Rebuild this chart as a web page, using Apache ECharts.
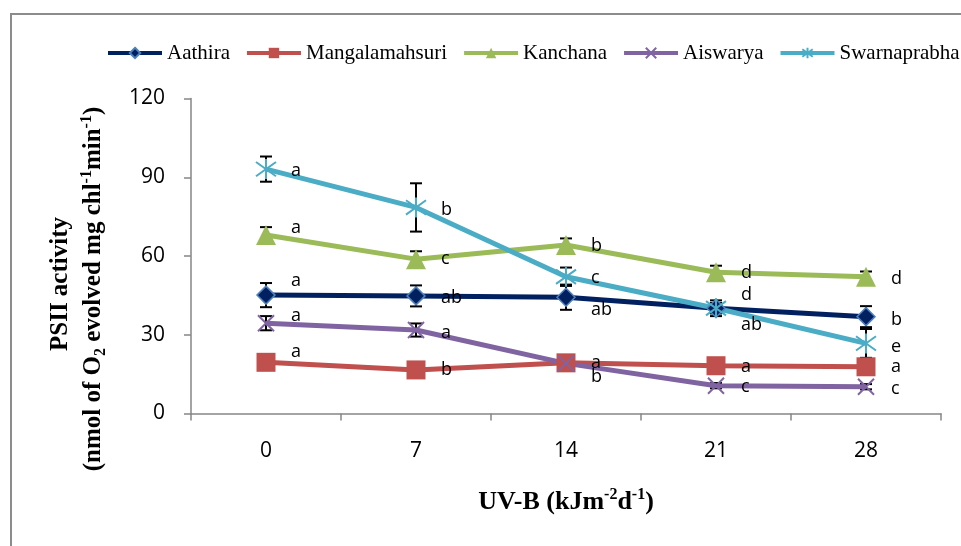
<!DOCTYPE html>
<html>
<head>
<meta charset="utf-8">
<script src="https://cdn.jsdelivr.net/npm/echarts@6/dist/echarts.min.js"></script>
<style>
html,body{margin:0;padding:0;background:#fff;}
#chart{width:961px;height:546px;}
</style>
</head>
<body>
<div id="chart"></div>
<script>
// ---- data ----
var categories = ['0', '7', '14', '21', '28'];
var seriesNames = ['Aathira', 'Mangalamahsuri', 'Kanchana', 'Aiswarya', 'Swarnaprabha'];
var yTicks = [0, 30, 60, 90, 120];

var aathira   = [45.1, 44.8, 44.3, 40.1, 36.9];
var mangala   = [19.5, 16.6, 19.3, 18.2, 17.8];
var kanchana  = [68.0, 58.8, 64.2, 53.8, 52.1];
var aiswarya  = [34.4, 31.8, 19.1, 10.6, 10.2];
var swarna    = [93.1, 78.5, 52.1, 40.1, 26.7];

var aathiraErr  = [4.6, 4.0, 4.8, 2.0, 4.0];
var mangalaErr  = [1.0, 1.0, 1.0, 1.0, 1.0];
var kanchanaErr = [3.0, 3.0, 2.5, 2.5, 2.0];
var aiswaryaErr = [2.7, 2.5, 1.0, 1.0, 1.0];
var swarnaErr   = [4.8, 9.2, 3.5, 3.0, 5.5];

var aathiraLetters  = ['a', 'ab', 'ab', 'ab', 'b'];
var mangalaLetters  = ['a', 'b', 'a', 'a', 'a'];
var kanchanaLetters = ['a', 'c', 'b', 'd', 'd'];
var aiswaryaLetters = ['a', 'a', 'b', 'c', 'c'];
var swarnaLetters   = ['a', 'b', 'c', 'd', 'e'];

// ---- layout (label vertical shifts in px) ----
var labelShift = {
  Aathira:        [-14, 2, 13, 17, 3],
  Mangalamahsuri: [-10, 0, 0, 1, 0],
  Kanchana:       [-7, 0, 1, 1, 2],
  Aiswarya:       [-7, 3, 14, 1, 2],
  Swarnaprabha:   [2, 2, 1, -13, 3]
};

var values = [aathira, mangala, kanchana, aiswarya, swarna];
var errs = [aathiraErr, mangalaErr, kanchanaErr, aiswaryaErr, swarnaErr];
var letters = [aathiraLetters, mangalaLetters, kanchanaLetters, aiswaryaLetters, swarnaLetters];

var styles = [
  {color: '#002060', symbol: 'diamond', size: 18, border: '#4F81BD', bw: 1.5},
  {color: '#C0504D', symbol: 'rect', size: 19, border: '#C0504D', bw: 0},
  {color: '#9BBB59', symbol: 'triangle', size: 20, border: '#9BBB59', bw: 0},
  {color: '#8064A2', symbol: 'path://M0 0L10 10M10 0L0 10', size: 16, border: '#8064A2', bw: 2},
  {color: '#4BACC6', symbol: 'path://M0 0L10 10M10 0L0 10M5 -2L5 12', size: 20, border: '#4BACC6', bw: 2}
];

var labelFont = 'Open Sans';
var series = [];

// error bars (drawn below the lines)
seriesNames.forEach(function (name, k) {
  series.push({
    name: name + ' err',
    type: 'custom',
    z: 1,
    silent: true,
    encode: {x: 0, y: 1},
    data: values[k].map(function (v, i) { return [i, v, errs[k][i]]; }),
    renderItem: function (params, api) {
      var i = api.value(0), v = api.value(1), e = api.value(2);
      var top = api.coord([i, v + e]);
      var bot = api.coord([i, v - e]);
      var w = 6;
      var st = {stroke: '#000', lineWidth: 2};
      return {
        type: 'group',
        children: [
          {type: 'line', shape: {x1: top[0], y1: top[1], x2: bot[0], y2: bot[1]}, style: st},
          {type: 'line', shape: {x1: top[0] - w, y1: top[1], x2: top[0] + w, y2: top[1]}, style: st},
          {type: 'line', shape: {x1: bot[0] - w, y1: bot[1], x2: bot[0] + w, y2: bot[1]}, style: st}
        ]
      };
    }
  });
});

seriesNames.forEach(function (name, k) {
  var s = styles[k];
  series.push({
    name: name,
    type: 'line',
    z: 2,
    symbol: s.symbol,
    symbolSize: s.size,
    showAllSymbol: true,
    lineStyle: {color: s.color, width: 5},
    itemStyle: {color: s.color, borderColor: s.border, borderWidth: s.bw},
    label: {
      show: true,
      position: 'inside',
      align: 'left',
      verticalAlign: 'middle',
      color: '#000',
      fontFamily: labelFont,
      fontSize: 18
    },
    data: values[k].map(function (v, i) {
      return {
        value: v,
        label: {formatter: letters[k][i], offset: [25, labelShift[name][i]]}
      };
    })
  });
});

var chart = echarts.init(document.getElementById('chart'), null, {renderer: 'canvas'});
chart.setOption({
  animation: false,
  backgroundColor: '#fff',
  grid: {left: 191, right: 20, top: 98.5, bottom: 132.5, containLabel: false},
  legend: {
    data: seriesNames,
    left: 106,
    top: 42,
    padding: 0,
    width: 900,
    itemWidth: 54,
    itemHeight: 13,
    itemGap: 15,
    lineStyle: {width: 4},
    textStyle: {fontFamily: 'Liberation Serif', fontSize: 21, color: '#000', lineHeight: 22}
  },
  xAxis: {
    type: 'category',
    data: categories,
    boundaryGap: true,
    axisLine: {show: true, lineStyle: {color: '#868686', width: 1.5}},
    axisTick: {show: true, length: 7, lineStyle: {color: '#868686', width: 1.5}},
    axisLabel: {color: '#000', fontFamily: labelFont, fontSize: 21, margin: 27},
    splitLine: {show: false}
  },
  yAxis: {
    type: 'value',
    min: yTicks[0],
    max: yTicks[yTicks.length - 1],
    interval: yTicks[1] - yTicks[0],
    axisLine: {show: true, lineStyle: {color: '#868686', width: 1.5}},
    axisTick: {show: true, length: 7, lineStyle: {color: '#868686', width: 1.5}},
    axisLabel: {color: '#000', fontFamily: labelFont, fontSize: 21, margin: 26},
    splitLine: {show: false}
  },
  graphic: [
    {
      type: 'rect', z: 0, silent: true,
      shape: {x: 11, y: 14, width: 1200, height: 800},
      style: {fill: 'none', stroke: '#8c8c8c', lineWidth: 2}
    },
    {
      type: 'text', x: 61, y: 284, rotation: Math.PI / 2,
      style: {
        text: 'PSII activity',
        font: 'bold 25px "Liberation Serif"',
        fill: '#000', align: 'center', verticalAlign: 'middle'
      }
    },
    {
      type: 'text', x: 94, y: 289, rotation: Math.PI / 2,
      style: {
        text: '(nmol of O{sub|2} evolved mg chl{sup|-1}min{sup|-1})',
        font: 'bold 25px "Liberation Serif"',
        fill: '#000', align: 'center', verticalAlign: 'middle',
        rich: {
          sub: {font: 'bold 16px "Liberation Serif"', fill: '#000', verticalAlign: 'bottom', lineHeight: 30, padding: [8, 0, 0, 0]},
          sup: {font: 'bold 16px "Liberation Serif"', fill: '#000', verticalAlign: 'top', lineHeight: 30}
        }
      }
    },
    {
      type: 'text', x: 566, y: 502,
      style: {
        text: 'UV-B (kJm{sup|-2}d{sup|-1})',
        font: 'bold 26px "Liberation Serif"',
        fill: '#000', align: 'center', verticalAlign: 'middle',
        rich: {
          sup: {font: 'bold 16px "Liberation Serif"', fill: '#000', verticalAlign: 'top', lineHeight: 30}
        }
      }
    }
  ],
  series: series
});
</script>
</body>
</html>
